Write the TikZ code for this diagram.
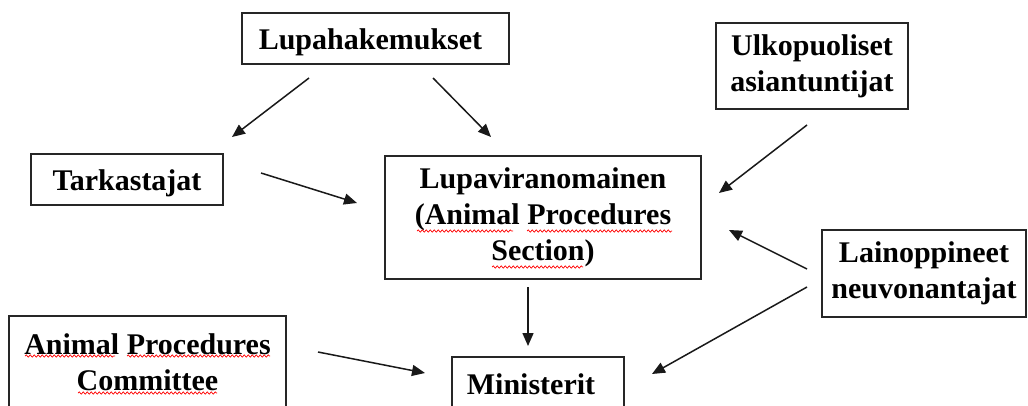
\documentclass[tikz,border=0pt]{standalone}
\usepackage{fontspec}
\setmainfont{Liberation Serif}
\usetikzlibrary{arrows.meta,decorations.pathmorphing}
\tikzset{
  box/.style={draw=black!85, line width=1.5pt, fill=white, inner sep=0pt, align=center,
    font=\bfseries\fontsize{30}{36}\selectfont},
  onebox/.style={box, text height=22pt, text depth=0pt},
  arr/.style={line width=1.5pt, draw=black!90, -{Triangle[length=13pt,width=11pt]}},
  squig/.style={draw=red, line width=0.7pt, decorate,
    decoration={snake, amplitude=1.1pt, segment length=4pt}}
}
\begin{document}
\begin{tikzpicture}[x=1pt,y=-1pt]
\useasboundingbox (0,0) rectangle (1028,405);
\clip (0,0) rectangle (1028,405);
% boxes
\node[onebox, minimum width=267pt, minimum height=51pt] (lupah) at (375.5,38.5) {\hspace*{-10pt}Lupahakemukset};
\node[onebox, minimum width=192pt, minimum height=51pt] (tark) at (127,179.5) {Tarkastajat};
\node[box, minimum width=316pt, minimum height=123pt] (lupav) at (543,217.5) {Lupaviranomainen\\(Animal Procedures\\Section)};
\node[box, minimum width=192pt, minimum height=86pt] (ulko) at (812,66) {Ulkopuoliset\\asiantuntijat};
\node[box, minimum width=204pt, minimum height=87pt] (lain) at (924,273.5) {Lainoppineet\\neuvonantajat};
\node[box, minimum width=277pt, minimum height=92pt] (apc) at (147.5,362) {Animal Procedures\\Committee};
\node[onebox, text depth=4pt, minimum width=172pt, minimum height=56pt] (min) at (538,385) {\hspace*{-14pt}Ministerit};
% connector end points
\coordinate (a1s) at (309,78);  \coordinate (a1e) at (232,137);
\coordinate (a2s) at (433,78);  \coordinate (a2e) at (491,137);
\coordinate (a3s) at (261,173); \coordinate (a3e) at (357,203);
\coordinate (a4s) at (807,125); \coordinate (a4e) at (719,193);
\coordinate (a5s) at (807,269); \coordinate (a5e) at (729,230);
\coordinate (a6s) at (807,287); \coordinate (a6e) at (652,374);
\coordinate (a7s) at (528,287); \coordinate (a7e) at (528,346);
\coordinate (a8s) at (318,352); \coordinate (a8e) at (425,373);
% connectors
\draw[arr] (a1s) -- (a1e);
\draw[arr] (a2s) -- (a2e);
\draw[arr] (a3s) -- (a3e);
\draw[arr] (a4s) -- (a4e);
\draw[arr] (a5s) -- (a5e);
\draw[arr] (a6s) -- (a6e);
\draw[arr] (a7s) -- (a7e);
\draw[arr] (a8s) -- (a8e);
% spell-check underlines
\draw[squig] (417,231) -- (513,231);
\draw[squig] (527,231) -- (672,231);
\draw[squig] (492,267) -- (583,267);
\draw[squig] (25,356) -- (115,356);
\draw[squig] (127,356) -- (270,356);
\draw[squig] (78,393) -- (217,393);
\end{tikzpicture}
\end{document}
